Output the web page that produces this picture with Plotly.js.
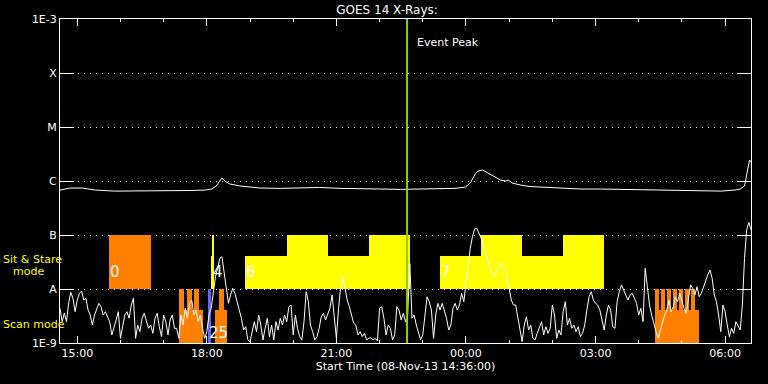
<!DOCTYPE html>
<html><head><meta charset="utf-8">
<script src="https://cdn.plot.ly/plotly-3.0.1.min.js"></script>
<style>html,body{margin:0;padding:0;background:#000;}#chart{width:768px;height:384px;}</style>
</head><body><div id="chart"></div>
<script>
// ---- data ----
const startTime = '2013-11-08 14:36:00';
const endTime = '2013-11-09 06:36:00';
const shortCadenceMin = 3;
// GOES 0.5-4 A flux, units of 1e-9 W/m^2, one value every 3 minutes from startTime
const shortFlux = [
4.39,2.48,3.59,2.48,5.51,8.69,6.73,3.80,6.25,8.32,
9.18,6.25,6.73,4.08,3.30,2.15,3.30,4.08,5.43,4.70,
3.30,3.80,3.07,2.48,1.41,1.87,2.67,3.80,1.22,2.00,
3.30,3.80,2.87,5.05,6.73,1.22,2.15,1.62,2.87,3.55,
2.48,1.87,2.15,1.51,2.87,3.55,2.00,1.31,3.30,2.48,
1.41,2.67,3.30,1.87,1.87,1.22,3.30,2.15,4.39,2.87,
5.43,6.25,3.30,4.08,2.48,3.30,1.87,1.22,1.62,3.30,
4.39,8.91,16.9,24.2,37.0,39.6,20.9,11.0,5.43,7.74,
10.3,8.32,5.43,4.08,2.87,1.74,2.00,1.14,1.06,1.74,
2.48,1.62,3.30,2.15,1.14,1.87,2.87,1.31,2.15,1.14,
2.48,1.74,2.87,2.15,3.30,2.48,4.70,5.05,1.41,3.30,
1.87,1.31,1.14,2.48,8.91,5.82,2.15,1.62,1.14,1.31,
1.87,3.07,3.55,2.67,3.30,4.39,7.74,3.30,1.22,4.39,
11.0,16.9,9.58,6.25,4.70,3.30,2.32,2.15,1.41,1.62,
1.31,1.51,1.14,1.22,1.25,1.14,1.22,1.09,4.39,4.70,
2.87,1.41,2.15,1.87,1.14,1.41,4.70,4.08,2.67,3.55,
2.48,3.30,29.9,2.87,3.30,2.15,1.62,1.14,1.41,3.30,
7.20,5.82,4.08,1.22,3.30,5.43,4.08,5.43,3.80,2.87,
1.74,2.15,4.39,5.43,4.08,5.05,8.32,5.82,12.8,27.8,
56.7,93.0,129,133,109,87.9,65.3,48.4,34.4,25.5,
19.5,16.9,20.6,25.5,29.0,29.0,22.5,14.7,10.3,6.25,
5.05,5.05,2.87,1.87,1.06,2.15,3.07,1.74,2.15,1.22,
1.14,1.51,1.87,2.48,1.41,2.00,1.51,1.87,5.05,3.30,
1.22,1.74,1.41,3.80,5.82,2.15,2.87,1.87,2.15,1.62,
2.00,1.31,1.51,2.15,4.08,7.20,8.91,6.25,5.43,5.05,
4.08,2.48,1.74,3.30,5.05,4.08,2.00,1.87,5.82,8.91,
11.9,9.58,7.74,6.25,7.74,8.32,6.73,5.43,3.30,4.39,
2.48,24.2,11.0,5.05,3.30,2.15,1.62,1.22,1.74,2.48,
3.30,4.08,6.25,3.80,4.70,7.20,5.82,8.32,5.82,4.39,
3.55,7.20,11.9,10.3,7.74,11.0,7.20,8.32,11.0,13.6,
18.2,22.5,15.8,7.74,5.82,3.30,1.62,5.05,3.80,2.15,
1.31,1.87,1.51,2.48,2.00,1.74,5.05,37.0,124,172,124];

// GOES 1-8 A flux (W/m^2)
const longTime = ['2013-11-08 14:36','2013-11-08 14:50','2013-11-08 15:07','2013-11-08 15:25','2013-11-08 15:52',
'2013-11-08 16:41','2013-11-08 17:37','2013-11-08 17:58','2013-11-08 18:07','2013-11-08 18:13','2013-11-08 18:17',
'2013-11-08 18:21','2013-11-08 18:25','2013-11-08 18:32','2013-11-08 18:46','2013-11-08 19:00','2013-11-08 19:14',
'2013-11-08 19:42','2013-11-08 20:10','2013-11-08 20:37','2013-11-08 21:05','2013-11-08 21:33','2013-11-08 22:01',
'2013-11-08 22:29','2013-11-08 22:56','2013-11-08 23:24','2013-11-08 23:45','2013-11-08 23:59','2013-11-09 00:06',
'2013-11-09 00:13','2013-11-09 00:17','2013-11-09 00:23','2013-11-09 00:28','2013-11-09 00:34','2013-11-09 00:41',
'2013-11-09 00:48','2013-11-09 00:55','2013-11-09 00:59','2013-11-09 01:04','2013-11-09 01:16','2013-11-09 01:29',
'2013-11-09 01:50','2013-11-09 02:11','2013-11-09 02:39','2013-11-09 03:07','2013-11-09 03:35','2013-11-09 04:02',
'2013-11-09 04:30','2013-11-09 04:58','2013-11-09 05:26','2013-11-09 05:54','2013-11-09 06:14','2013-11-09 06:21',
'2013-11-09 06:27','2013-11-09 06:31','2013-11-09 06:34','2013-11-09 06:36'];
const longFlux = [6.8e-7,7.4e-7,7.4e-7,6.8e-7,6.5e-7,
6.5e-7,6.67e-7,6.8e-7,7.1e-7,8.1e-7,9.6e-7,
1.14e-6,1.0e-6,8.8e-7,8.1e-7,7.7e-7,7.4e-7,
7.3e-7,7.4e-7,7.6e-7,7.3e-7,7.1e-7,7.1e-7,
7.0e-7,7.1e-7,7.1e-7,7.3e-7,7.7e-7,9.2e-7,
1.35e-6,1.53e-6,1.6e-6,1.47e-6,1.29e-6,1.14e-6,
1.04e-6,1.0e-6,1.04e-6,9.2e-7,8.4e-7,7.9e-7,
7.6e-7,7.4e-7,7.1e-7,7.1e-7,7.0e-7,6.8e-7,
6.67e-7,6.67e-7,6.5e-7,6.5e-7,6.8e-7,7.1e-7,
8.1e-7,1.6e-6,2.45e-6,2.25e-6];

// Sit & Stare observation blocks
const ssStart = ['2013-11-08 15:44:06','2013-11-08 18:05:30','2013-11-08 18:06:54','2013-11-08 18:53:12','2013-11-08 19:51:36',
'2013-11-08 20:48:36','2013-11-08 21:45:36','2013-11-08 23:24:18','2013-11-09 00:21:18','2013-11-09 01:18:18','2013-11-09 02:15:18'];
const ssEnd = ['2013-11-08 16:42:30','2013-11-08 18:10:06','2013-11-08 18:09:42','2013-11-08 19:51:36','2013-11-08 20:48:36',
'2013-11-08 21:45:36','2013-11-08 22:42:06','2013-11-09 00:21:18','2013-11-09 01:18:18','2013-11-09 02:15:18','2013-11-09 03:12:18'];
const ssTop = [1e-7,4e-8,1e-7,4e-8,1e-7,4e-8,1e-7,4e-8,1e-7,4e-8,1e-7];
const ssColor = ['#ff8000','#ffff00','#ffff00','#ffff00','#ffff00','#ffff00','#ffff00','#ffff00','#ffff00','#ffff00','#ffff00'];
const ssBase = 1e-8;

// Scan mode blocks
const scanStart = ['2013-11-08 17:21:48','2013-11-08 17:21:48','2013-11-08 17:33:00','2013-11-08 17:42:18','2013-11-08 18:01:18',
'2013-11-08 18:11:30','2013-11-08 18:16:36',
'2013-11-09 04:23:12','2013-11-09 04:23:12','2013-11-09 04:31:30','2013-11-09 04:39:54','2013-11-09 04:48:12',
'2013-11-09 04:56:30','2013-11-09 05:04:54','2013-11-09 05:13:12'];
const scanEnd = ['2013-11-08 17:54:24','2013-11-08 17:28:24','2013-11-08 17:39:30','2013-11-08 17:48:48','2013-11-08 18:05:54',
'2013-11-08 18:28:36','2013-11-08 18:23:36',
'2013-11-09 05:23:18','2013-11-09 04:28:42','2013-11-09 04:37:06','2013-11-09 04:45:24','2013-11-09 04:53:48',
'2013-11-09 05:02:06','2013-11-09 05:10:24','2013-11-09 05:18:48'];
const scanTop = [4e-9,1e-8,1e-8,1e-8,1e-8,4e-9,1e-8,4e-9,1e-8,1e-8,1e-8,1e-8,1e-8,1e-8,1e-8];
const scanColor = ['#ff8000','#ff8000','#ff8000','#ff8000','#6464ff','#ff8000','#ff8000',
'#ff8000','#ff8000','#ff8000','#ff8000','#ff8000','#ff8000','#ff8000','#ff8000'];
const scanBase = 1e-9;

// block labels
const labelText = ['0','4','6','7','25'];
const labelTime = ['2013-11-08 15:44:06','2013-11-08 18:06:54','2013-11-08 18:53:12','2013-11-08 23:24:18','2013-11-08 18:01:18'];
const labelLevel = [2.07e-8,2.07e-8,2.07e-8,2.07e-8,1.53e-9];

const eventPeak = '2013-11-08 22:38:12';

const yTickVals = [1e-9,1e-8,1e-7,1e-6,1e-5,1e-4,1e-3];
const yTickText = ['1E-9','A','B','C','M','X','1E-3'];

// ---- build ----
const toMs = s => Date.parse(s.replace(' ','T') + 'Z');
const t0 = toMs(startTime);
const shortTime = shortFlux.map((v,i) => t0 + i*shortCadenceMin*60000);
const shortVals = shortFlux.map(v => v*1e-9);

function barTrace(starts, ends, tops, base, colors){
  const s = starts.map(toMs), e = ends.map(toMs);
  return {
    type:'bar', x: s.map((v,i)=>(v+e[i])/2), width: s.map((v,i)=>e[i]-v),
    base: tops.map(()=>base), y: tops.map(t=>t-base),
    marker:{color: colors, line:{width:0}}, hoverinfo:'skip', showlegend:false
  };
}

const white = '#ffffff';
const font = 'DejaVu Sans, sans-serif';

const data = [
  barTrace(ssStart, ssEnd, ssTop, ssBase, ssColor),
  barTrace(scanStart, scanEnd, scanTop, scanBase, scanColor),
  {type:'scatter', mode:'lines', x: longTime, y: longFlux, line:{color:white, width:1}, hoverinfo:'skip', showlegend:false},
  {type:'scatter', mode:'lines', x: shortTime, y: shortVals, line:{color:white, width:1}, hoverinfo:'skip', showlegend:false},
  {type:'scatter', mode:'lines', x: [eventPeak, eventPeak], y: [yTickVals[0], yTickVals[yTickVals.length-1]],
   line:{color:'#99cc00', width:2}, hoverinfo:'skip', showlegend:false}
];

const annotations = labelText.map((t,i)=>({
  text: t, x: labelTime[i], y: Math.log10(labelLevel[i]), xref:'x', yref:'y',
  xanchor:'left', yanchor:'middle', showarrow:false, borderpad:0,
  font:{family:font, size:15, color:white}
}));
annotations.push({text:'Event Peak', x: eventPeak, y: Math.log10(3.6e-4), xref:'x', yref:'y',
  xanchor:'left', yanchor:'middle', xshift:9, showarrow:false, borderpad:0,
  font:{family:font, size:11, color:white}});
annotations.push({text:'Sit & Stare', x:-0.0839, y:0.2583, xref:'paper', yref:'paper', xanchor:'left', yanchor:'middle',
  showarrow:false, borderpad:0, font:{family:font, size:11, color:'#ffff00'}});
annotations.push({text:'mode', x:-0.0695, y:0.22, xref:'paper', yref:'paper', xanchor:'left', yanchor:'middle',
  showarrow:false, borderpad:0, font:{family:font, size:11, color:'#ffff00'}});
annotations.push({text:'Scan mode', x:-0.0839, y:0.0577, xref:'paper', yref:'paper', xanchor:'left', yanchor:'middle',
  showarrow:false, borderpad:0, font:{family:font, size:11, color:'#ffff00'}});

const layout = {
  width:768, height:384,
  margin:{l:60, r:17, t:19, b:41, pad:0},
  paper_bgcolor:'#000', plot_bgcolor:'#000',
  font:{family:font, size:11, color:white},
  barmode:'overlay', bargap:0,
  showlegend:false,
  title:{text:'GOES 14 X-Rays:', x:0.504, xanchor:'center', y:0.975, yanchor:'middle', font:{family:font, size:12, color:white}},
  xaxis:{
    type:'date', range:[startTime, endTime],
    tick0:'2013-11-08 15:00:00', dtick:3*3600000, tickformat:'%H:%M',
    ticks:'inside', ticklen:7, tickcolor:white, tickwidth:1,
    minor:{dtick:3600000, ticks:'inside', ticklen:3, tickcolor:white, tickwidth:1, showgrid:false},
    showline:true, linecolor:white, linewidth:1, mirror:'ticks',
    showgrid:false, zeroline:false,
    tickfont:{family:font, size:11, color:white},
    title:{text:'Start Time (08-Nov-13 14:36:00)', font:{family:font, size:11, color:white}, standoff:2}
  },
  yaxis:{
    type:'log', range:[-9,-3], tickvals:yTickVals, ticktext:yTickText,
    ticks:'inside', ticklen:14, tickcolor:white, tickwidth:1,
    showline:true, linecolor:white, linewidth:1, mirror:'ticks',
    showgrid:true, gridcolor:white, gridwidth:1, griddash:'1px,5px',
    zeroline:false, tickfont:{family:font, size:11, color:white}
  },
  annotations: annotations
};

Plotly.newPlot('chart', data, layout, {staticPlot:true, displayModeBar:false});
</script>
</body></html>
